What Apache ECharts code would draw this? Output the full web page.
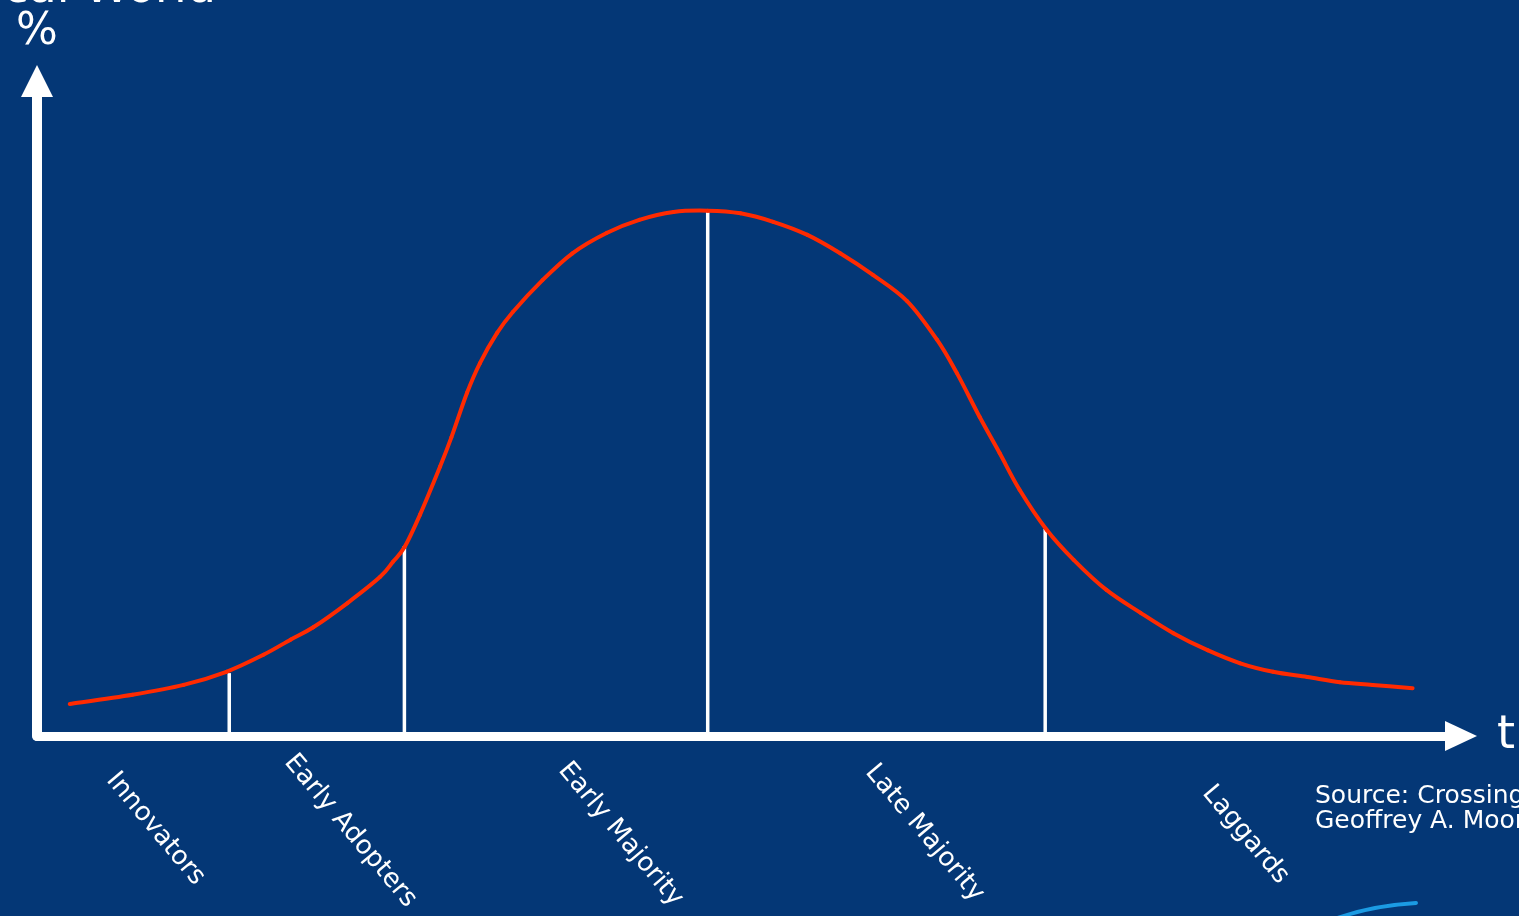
<!DOCTYPE html>
<html>
<head>
<meta charset="utf-8">
<title>Technology Adoption Life Cycle</title>
<script src="https://cdn.jsdelivr.net/npm/echarts@6/dist/echarts.min.js"></script>
<style>
  html, body { margin: 0; padding: 0; background: #043776; }
  #chart { width: 1519px; height: 916px; }
</style>
</head>
<body>
<div id="chart"></div>
<script>
// Adoption curve: time (x) against share of adopters in % (y)
const curveX = [2.3, 6.7, 10.3, 13.3, 15.9, 17.8, 19.4, 21.8, 24.1, 25.0, 25.8, 26.9, 28.3, 29.1, 30.2, 31.1,
  32.3, 33.4, 35.5, 37.6, 40.0, 42.3, 44.7, 47.1, 49.4, 51.7, 54.1, 56.4, 58.7, 61.1, 63.2, 64.6,
  66.2, 67.6, 69.0, 70.9, 72.8, 75.1, 77.5, 79.8, 82.2, 84.5, 86.8, 89.2, 91.5, 93.8, 96.6];
const curveY = [4.9, 6.3, 7.8, 9.8, 12.4, 14.7, 16.6, 20.3, 24.3, 26.6, 28.8, 33.8, 41.1, 45.6, 52.4, 56.9,
  61.5, 64.7, 69.6, 73.7, 76.8, 78.8, 80.0, 80.2, 79.8, 78.5, 76.5, 73.7, 70.4, 66.4, 60.5, 55.4,
  48.7, 43.2, 37.6, 31.5, 26.9, 22.3, 18.8, 15.7, 13.1, 11.1, 9.8, 9.0, 8.2, 7.8, 7.3];

// Boundaries between adopter groups and the curve height at each boundary
const dividerX = [13.5, 25.8, 47.1, 70.8];
const dividerTop = [9.6, 29.0, 80.2, 31.6];

// Adopter groups, left to right
const groups = ['Innovators', 'Early Adopters', 'Early Majority', 'Late Majority', 'Laggards'];

const titleText = 'cal World';
const sourceLines = ['Source: Crossing the Chasm', 'Geoffrey A. Moore'];

// Layout: where each rotated group name starts (pixels)
const groupLabelAnchor = [[111, 776], [289, 758], [563, 766], [870, 768], [1207, 789]];

const FONT = 'DejaVu Sans';
const WHITE = '#ffffff';
const CURVE_RED = '#ff2a00';

const chart = echarts.init(document.getElementById('chart'), null, { renderer: 'canvas' });

const graphics = [];
groups.forEach(function (name, i) {
  graphics.push({
    type: 'text',
    x: groupLabelAnchor[i][0],
    y: groupLabelAnchor[i][1],
    rotation: -50 * Math.PI / 180,
    silent: true,
    style: {
      text: name,
      fill: WHITE,
      font: '26px "' + FONT + '"',
      align: 'left',
      verticalAlign: 'middle'
    }
  });
});
graphics.push({
  type: 'text',
  x: 216,
  y: -10,
  silent: true,
  style: { text: titleText, fill: WHITE, font: '46px "' + FONT + '"', align: 'right', verticalAlign: 'middle' }
});
graphics.push({
  type: 'text',
  x: 1315,
  y: 809,
  silent: true,
  style: {
    text: sourceLines.join('\n'),
    fill: WHITE,
    font: '25px "' + FONT + '"',
    lineHeight: 25,
    align: 'left',
    verticalAlign: 'middle'
  }
});
// decorative swoosh in the lower right corner
graphics.push({
  type: 'bezierCurve',
  silent: true,
  shape: { x1: 1332, y1: 920, x2: 1416, y2: 903, cpx1: 1368, cpy1: 906 },
  style: { stroke: '#1b9be3', lineWidth: 4, fill: null, lineCap: 'round' }
});

// Each segment of the curve is a cubic Bezier through neighbouring points (Catmull-Rom)
function renderCurveSegment(params, api) {
  const i = params.dataIndex;
  const n = curveX.length;
  if (i >= n - 1) return null;
  const pt = function (k) {
    k = Math.max(0, Math.min(n - 1, k));
    return api.coord([curveX[k], curveY[k]]);
  };
  const p0 = pt(i - 1), p1 = pt(i), p2 = pt(i + 1), p3 = pt(i + 2);
  return {
    type: 'bezierCurve',
    shape: {
      x1: p1[0], y1: p1[1],
      x2: p2[0], y2: p2[1],
      cpx1: p1[0] + (p2[0] - p0[0]) / 6, cpy1: p1[1] + (p2[1] - p0[1]) / 6,
      cpx2: p2[0] - (p3[0] - p1[0]) / 6, cpy2: p2[1] - (p3[1] - p1[1]) / 6
    },
    style: { stroke: CURVE_RED, lineWidth: 4, fill: null, lineCap: 'round' }
  };
}

function renderDivider(params, api) {
  const base = api.coord([api.value(0), 0]);
  const top = api.coord([api.value(0), api.value(1)]);
  return {
    type: 'line',
    shape: { x1: base[0], y1: base[1], x2: top[0], y2: top[1] },
    style: { stroke: WHITE, lineWidth: 3.5 }
  };
}

const option = {
  backgroundColor: '#043776',
  animation: false,
  grid: { left: 37, right: 58, top: 81, bottom: 180 },
  xAxis: {
    type: 'value',
    min: 0,
    max: 100,
    name: 't',
    nameLocation: 'end',
    nameGap: 36,
    nameTextStyle: { color: WHITE, fontSize: 46, fontFamily: FONT, padding: [0, 0, 24, 0] },
    axisLine: {
      show: true,
      symbol: ['none', 'triangle'],
      symbolSize: [30, 32],
      lineStyle: { color: WHITE, width: 9 }
    },
    axisTick: { show: false },
    axisLabel: { show: false },
    splitLine: { show: false }
  },
  yAxis: {
    type: 'value',
    min: 0,
    max: 100,
    name: '%',
    nameLocation: 'end',
    nameGap: 26,
    nameTextStyle: { color: WHITE, fontSize: 44, fontFamily: FONT },
    axisLine: {
      show: true,
      symbol: ['none', 'triangle'],
      symbolSize: [32, 32],
      lineStyle: { color: WHITE, width: 10 }
    },
    axisTick: { show: false },
    axisLabel: { show: false },
    splitLine: { show: false }
  },
  series: [
    {
      type: 'custom',
      name: 'dividers',
      silent: true,
      z: 2,
      data: dividerX.map(function (x, i) { return [x, dividerTop[i]]; }),
      renderItem: renderDivider
    },
    {
      type: 'custom',
      name: 'adoption',
      silent: true,
      z: 3,
      data: curveX.map(function (x, i) { return [x, curveY[i]]; }),
      renderItem: renderCurveSegment
    }
  ],
  graphic: graphics
};

chart.setOption(option);
</script>
</body>
</html>
